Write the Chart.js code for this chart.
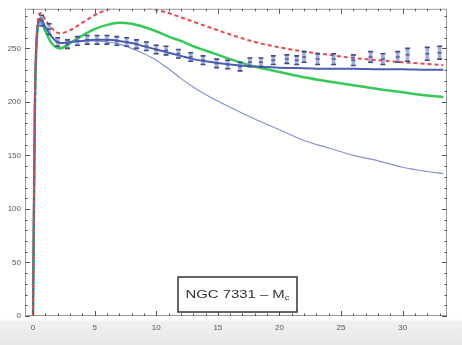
<!DOCTYPE html>
<html><head><meta charset="utf-8">
<script src="https://cdn.jsdelivr.net/npm/chart.js@4.4.0/dist/chart.umd.min.js"></script>
<style>
html,body{margin:0;padding:0;}
body{width:462px;height:345px;overflow:hidden;background:linear-gradient(#fff 0,#fff 319px,#f0f0f0 322px,#e8e8e8 345px);}
canvas{display:block;}
</style></head><body>
<canvas id="c" width="462" height="345"></canvas>
<script>
// Radius grid (kpc) shared by the model curves
const radii = [0, 0.15, 0.35, 0.6, 1.0, 1.5, 2.2, 3, 4, 5, 6, 7, 8, 9, 10, 11, 12, 13, 14, 16, 18, 20, 22, 24, 26, 28, 30, 32, 33.3];
// Model rotation velocities (km/s)
const vRed   = [0, 200, 272, 283, 277, 269, 264, 267, 274, 281, 286, 289, 290, 289, 286, 283, 279, 275, 271, 263, 256, 251, 247, 244, 241, 239, 237, 235.5, 234.5];
const vGreen = [0, 190, 265, 276, 266, 255, 250, 255, 262, 268, 272, 274, 273, 270, 266, 261, 257, 252, 248, 240, 233, 228, 223, 219, 215.5, 212, 209, 206, 204.5];
const vBlue  = [0, 195, 268, 278, 270, 261, 255, 256, 257, 258, 258, 257, 255, 252, 249, 246, 243, 240, 238, 235, 233, 232, 231.5, 231, 231, 230.5, 230.5, 230, 230];
const vThin  = [0, 195, 268, 278, 270, 261, 255, 256, 257, 257, 256, 254, 250, 245, 239, 231, 222, 214, 207, 195, 184, 174, 164, 157, 150, 145, 139, 135, 133];
// Observed rotation curve with uncertainties
const obsR   = [0.7, 1.3, 2.0, 2.8, 3.6, 4.4, 5.2, 6.0, 6.8, 7.6, 8.4, 9.2, 10.0, 10.8, 11.8, 12.8, 13.8, 14.9, 15.8, 16.8, 17.6, 18.5, 19.5, 20.6, 21.4, 22.0, 23.1, 24.4, 26.0, 27.4, 28.4, 29.6, 30.4, 32.0, 33.0];
const obsV   = [276, 268, 256, 254, 257, 258, 258, 258, 257, 256, 254, 252, 249, 248, 245, 242, 239, 236, 235, 233, 237, 237, 239, 240, 239, 242, 240, 240, 239, 242, 240, 242, 244, 245, 246];
const obsErr = [5, 5, 4, 4, 4, 4, 4, 4, 4, 4, 4, 4, 4, 4, 4, 4, 4, 4, 4, 4, 4, 4, 4, 4, 4, 5, 5, 5, 5, 5, 5, 5, 6, 6, 6];
// Axis ticks
const xTicks = [0, 5, 10, 15, 20, 25, 30];
const yTicks = [0, 50, 100, 150, 200, 250];
const panelLabel = 'NGC 7331 \u2013 M';
const panelSub = 'c';

const pts = (xs, ys) => xs.map((x, i) => ({x, y: ys[i]}));
const errBars = obsR.map((r, i) => ({x: r, y: [obsV[i] - obsErr[i], obsV[i] + obsErr[i]]}));
const errCaps = [].concat(
  obsR.map((r, i) => ({x: r, y: obsV[i] - obsErr[i]})),
  obsR.map((r, i) => ({x: r, y: obsV[i] + obsErr[i]}))
);

// Frame with inward ticks on all four sides, plus the panel label box
const framePlugin = {
  id: 'frame',
  afterDatasetsDraw(chart) {
    const {ctx, chartArea: a, scales: {x, y}} = chart;
    ctx.save();
    ctx.strokeStyle = '#9a9a9a';
    ctx.lineWidth = 1;
    ctx.strokeRect(a.left + 0.5, a.top + 0.5, a.right - a.left - 1, a.bottom - a.top - 1);
    ctx.strokeStyle = '#555';
    ctx.beginPath();
    for (let v = 0; v <= 33; v++) {
      const px = Math.round(x.getPixelForValue(v)) + 0.5;
      const len = v % 5 === 0 ? 5 : 2.5;
      ctx.moveTo(px, a.bottom); ctx.lineTo(px, a.bottom - len);
      ctx.moveTo(px, a.top); ctx.lineTo(px, a.top + len);
    }
    for (let v = 0; v <= 280; v += 10) {
      const py = Math.round(y.getPixelForValue(v)) + 0.5;
      const len = v % 50 === 0 ? 5 : 2.5;
      ctx.moveTo(a.left, py); ctx.lineTo(a.left + len, py);
      ctx.moveTo(a.right, py); ctx.lineTo(a.right - len, py);
    }
    ctx.stroke();

    // label box
    const bx = 178, by = 277, bw = 119, bh = 35;
    ctx.fillStyle = '#fff';
    ctx.fillRect(bx, by, bw, bh);
    ctx.strokeStyle = '#333';
    ctx.lineWidth = 1.5;
    ctx.strokeRect(bx, by, bw, bh);
    ctx.fillStyle = '#333';
    ctx.font = '11px "Liberation Sans", Arial, sans-serif';
    ctx.textBaseline = 'middle';
    const mainW = ctx.measureText(panelLabel).width;
    ctx.font = '7px "Liberation Sans", Arial, sans-serif';
    const subW = ctx.measureText(panelSub).width;
    const total = mainW + subW;
    const target = 104;
    const sx = target / total;
    ctx.translate(bx + (bw - target) / 2, by + bh / 2);
    ctx.scale(sx, 1);
    ctx.font = '11px "Liberation Sans", Arial, sans-serif';
    ctx.textAlign = 'left';
    ctx.fillText(panelLabel, 0, 0);
    ctx.font = '7px "Liberation Sans", Arial, sans-serif';
    ctx.fillText(panelSub, mainW, 4);
    ctx.restore();
  }
};

new Chart(document.getElementById('c'), {
  type: 'line',
  data: {
    datasets: [
      {type: 'line', data: pts(obsR, []).map((p, i) => ({x: obsR[i], y: obsV[i]})), showLine: false,
       pointStyle: 'line', pointRadius: 2, borderColor: '#4a5897', borderWidth: 1.5, order: 1},
      {type: 'line', data: errCaps, showLine: false, pointStyle: 'line', pointRadius: 2.5,
       borderColor: '#3e4b86', borderWidth: 1.6, order: 2},
      {type: 'bar', data: errBars, barThickness: 3, backgroundColor: 'rgba(95,110,185,0.55)', order: 3},
      {data: pts(radii, vRed), borderColor: '#e5484c', borderWidth: 2, borderDash: [4, 3],
       pointRadius: 0, cubicInterpolationMode: 'monotone', order: 4},
      {data: pts(radii, vBlue), borderColor: '#4a5eb5', borderWidth: 2,
       pointRadius: 0, cubicInterpolationMode: 'monotone', order: 5},
      {data: pts(radii, vGreen), borderColor: '#36c95a', borderWidth: 2.5,
       pointRadius: 0, cubicInterpolationMode: 'monotone', order: 6},
      {data: pts(radii, vThin), borderColor: '#8491c6', borderWidth: 1.2,
       pointRadius: 0, cubicInterpolationMode: 'monotone', order: 7}
    ]
  },
  options: {
    responsive: false,
    devicePixelRatio: 1,
    animation: false,
    layout: {padding: {top: 0, right: 15, left: 0, bottom: 0}},
    plugins: {legend: {display: false}, tooltip: {enabled: false}, title: {display: false}},
    scales: {
      x: {
        type: 'linear', min: -0.65, max: 33.6, offset: false,
        afterFit: s => { s.height = 29; },
        afterBuildTicks: s => { s.ticks = xTicks.map(v => ({value: v})); },
        grid: {display: false, drawTicks: false},
        border: {display: false},
        ticks: {autoSkip: false, maxRotation: 0, padding: 7, color: '#555',
                font: {size: 8, family: '"Liberation Sans", Arial, sans-serif'}}
      },
      y: {
        type: 'linear', min: 0, max: 287,
        afterFit: s => { s.width = 25; },
        afterBuildTicks: s => { s.ticks = yTicks.map(v => ({value: v})); },
        grid: {display: false, drawTicks: false},
        border: {display: false},
        ticks: {autoSkip: false, padding: 4, color: '#555',
                font: {size: 8, family: '"Liberation Sans", Arial, sans-serif'}}
      }
    }
  },
  plugins: [framePlugin]
});
</script>
</body></html>
